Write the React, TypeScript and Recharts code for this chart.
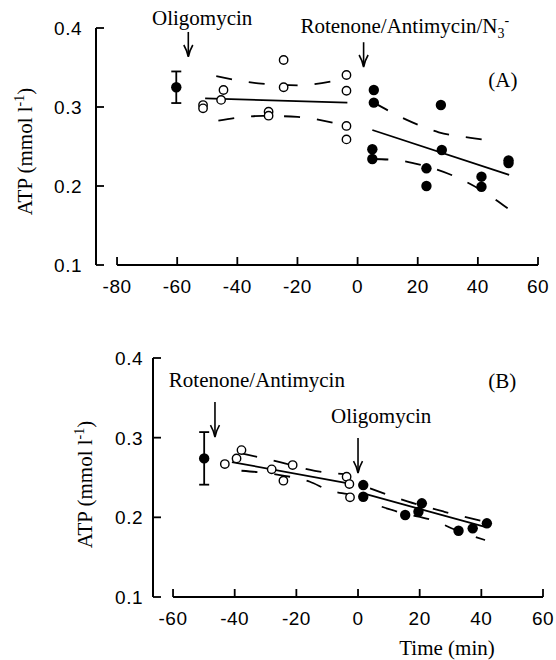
import { ComposedChart, Scatter, Line, XAxis, YAxis, ErrorBar, ReferenceLine, ReferenceDot } from "recharts";

const SANS = "'Liberation Sans', Arial, sans-serif";
const SERIF = "'Liberation Serif', 'Times New Roman', serif";

const ATP_TICKS = [0.1, 0.2, 0.3, 0.4];

// ---- panel A: oligomycin first, then rotenone/antimycin/azide
const A_TIME_TICKS = [-80, -60, -40, -20, 0, 20, 40, 60];
const A_MEAN = [{ t: -60.3, atp: 0.325, err: 0.02 }];
const A_OPEN = [
  { t: -51.4, atp: 0.3025 }, { t: -51.4, atp: 0.2983 }, { t: -45.4, atp: 0.309 }, { t: -44.6, atp: 0.3215 },
  { t: -29.6, atp: 0.294 }, { t: -29.6, atp: 0.289 }, { t: -24.6, atp: 0.3595 }, { t: -24.6, atp: 0.325 },
  { t: -3.7, atp: 0.3405 }, { t: -3.7, atp: 0.3206 }, { t: -3.7, atp: 0.276 }, { t: -3.7, atp: 0.259 },
];
const A_FILLED = [
  { t: 5.4, atp: 0.3215 }, { t: 5.4, atp: 0.3055 }, { t: 4.9, atp: 0.2465 }, { t: 4.9, atp: 0.2342 },
  { t: 27.7, atp: 0.3025 }, { t: 28, atp: 0.2456 }, { t: 22.9, atp: 0.2224 }, { t: 22.9, atp: 0.2 },
  { t: 41.2, atp: 0.2118 }, { t: 41.2, atp: 0.1991 }, { t: 50.2, atp: 0.2325 }, { t: 50.2, atp: 0.229 },
];
const A_FIT_1 = [{ t: -50.7, atp: 0.311 }, { t: -3.4, atp: 0.3055 }];
const A_UPPER_1 = [{ t: -47, atp: 0.339 }, { t: -33, atp: 0.33 }, { t: -20, atp: 0.3275 }, { t: -6.3, atp: 0.334 }];
const A_LOWER_1 = [{ t: -46.3, atp: 0.2827 }, { t: -31.5, atp: 0.2888 }, { t: -20, atp: 0.2875 }, { t: -5, atp: 0.2772 }];
const A_FIT_2 = [{ t: 4.9, atp: 0.2709 }, { t: 50.4, atp: 0.214 }];
const A_UPPER_2 = [{ t: 5.4, atp: 0.3055 }, { t: 16, atp: 0.2844 }, { t: 27, atp: 0.268 }, { t: 38.8, atp: 0.2604 }, { t: 44.9, atp: 0.2573 }];
const A_LOWER_2 = [{ t: 4.9, atp: 0.2342 }, { t: 12.7, atp: 0.2329 }, { t: 18.8, atp: 0.2287 }, { t: 30.4, atp: 0.2152 }, { t: 41, atp: 0.195 }, { t: 49.9, atp: 0.1718 }];
const A_ARROWS = [{ t: -56.3, from: 0.395, to: 0.3633 }, { t: 2, from: 0.382, to: 0.3506 }];
const A_NOTES = [
  { t: -51.7, atp: 0.4038, text: "Oligomycin" },
  { t: 15.7, atp: 0.3937, text: "Rotenone/Antimycin/N", sub: "3", sup: "-" },
  { t: 48.3, atp: 0.3253, text: "(A)" },
];

// ---- panel B: rotenone/antimycin first, then oligomycin
const B_TIME_TICKS = [-60, -40, -20, 0, 20, 40, 60];
const B_MEAN = [{ t: -49.9, atp: 0.274, err: 0.033 }];
const B_OPEN = [
  { t: -43.2, atp: 0.2669 }, { t: -39.4, atp: 0.274 }, { t: -37.8, atp: 0.2844 }, { t: -28, atp: 0.2602 },
  { t: -21.2, atp: 0.2656 }, { t: -24.2, atp: 0.246 }, { t: -3.7, atp: 0.251 }, { t: -2.8, atp: 0.2418 },
  { t: -2.6, atp: 0.2251 },
];
const B_FILLED = [
  { t: 1.7, atp: 0.2405 }, { t: 1.7, atp: 0.2259 }, { t: 15.3, atp: 0.2029 }, { t: 20.7, atp: 0.2176 },
  { t: 19.6, atp: 0.207 }, { t: 32.6, atp: 0.1832 }, { t: 37.2, atp: 0.1862 }, { t: 41.8, atp: 0.1925 },
];
const B_FIT_1 = [{ t: -40.9, atp: 0.2694 }, { t: -3.6, atp: 0.243 }];
const B_UPPER_1 = [{ t: -37.8, atp: 0.2803 }, { t: -25, atp: 0.269 }, { t: -14, atp: 0.2583 }, { t: -3.2, atp: 0.254 }];
const B_LOWER_1 = [{ t: -37.8, atp: 0.2585 }, { t: -25.3, atp: 0.2531 }, { t: -15.6, atp: 0.2447 }, { t: -9.6, atp: 0.2343 }, { t: -3.2, atp: 0.229 }];
const B_FIT_2 = [{ t: 1.7, atp: 0.23 }, { t: 41.2, atp: 0.188 }];
const B_UPPER_2 = [{ t: 3.9, atp: 0.2364 }, { t: 16, atp: 0.22 }, { t: 28, atp: 0.207 }, { t: 41.2, atp: 0.1945 }];
const B_LOWER_2 = [{ t: 7.7, atp: 0.2133 }, { t: 14.7, atp: 0.205 }, { t: 23.9, atp: 0.1966 }, { t: 33.1, atp: 0.182 }, { t: 41.2, atp: 0.1715 }];
const B_ARROWS = [{ t: -46.4, from: 0.3447, to: 0.3007 }, { t: 0, from: 0.2995, to: 0.2556 }];
const B_NOTES = [
  { t: -32.8, atp: 0.3635, text: "Rotenone/Antimycin" },
  { t: 7.5, atp: 0.3183, text: "Oligomycin" },
  { t: 46.8, atp: 0.3622, text: "(B)" },
];

function XTick({ x, y, payload }: any) {
  return (
    <g>
      <line x1={x} y1={y} x2={x} y2={y - 8} stroke="#000" strokeWidth={1.8} />
      <text x={x} y={y + 28} textAnchor="middle" fontFamily={SANS} fontSize={19} letterSpacing={0.5} fill="#000">
        {payload.value}
      </text>
    </g>
  );
}

function YTick({ x, y, payload, gap }: any) {
  return (
    <g>
      <line x1={x} y1={y} x2={x + 8} y2={y} stroke="#000" strokeWidth={1.8} />
      <text x={x - gap} y={y + 7} textAnchor="end" fontFamily={SANS} fontSize={19} letterSpacing={0.5} fill="#000">
        {Number(payload.value).toFixed(1)}
      </text>
    </g>
  );
}

function AtpTitle({ viewBox, shift, offset }: any) {
  const cx = viewBox.x + viewBox.width - offset;
  const cy = viewBox.y + viewBox.height / 2 + shift;
  return (
    <text
      x={cx}
      y={cy + 7}
      transform={`rotate(-90 ${cx} ${cy})`}
      textAnchor="middle"
      fontFamily={SERIF}
      fontSize={21}
      fill="#000"
    >
      ATP (mmol l
      <tspan dy={-8} fontSize={14}>-1</tspan>
      <tspan dy={8}>)</tspan>
    </text>
  );
}

function Arrow({ x1, y1, x2, y2 }: any) {
  return (
    <g>
      <line x1={x1} y1={y1} x2={x2} y2={y2 - 1} stroke="#000" strokeWidth={1.6} />
      <path
        d={`M ${x2 - 4.5} ${y2 - 12} Q ${x2 - 1} ${y2 - 6} ${x2} ${y2} Q ${x2 + 1} ${y2 - 6} ${x2 + 4.5} ${y2 - 12}`}
        fill="none"
        stroke="#000"
        strokeWidth={1.6}
      />
    </g>
  );
}

const openDot = (p: any) => <circle cx={p.cx} cy={p.cy} r={4.2} fill="#fff" stroke="#000" strokeWidth={1.4} />;
const filledDot = (p: any) => <circle cx={p.cx} cy={p.cy} r={5.2} fill="#000" />;

interface PanelProps {
  height: number;
  axisWidth: number;
  right: number;
  xDomain: [number, number];
  xTicks: number[];
  tickGap: number;
  titleShift: number;
  titleOffset: number;
  mean: any[];
  open: any[];
  filled: any[];
  fits: any[][];
  bands: any[][];
  arrows: { t: number; from: number; to: number }[];
  notes: { t: number; atp: number; text: string; sub?: string; sup?: string }[];
  timeTitle?: boolean;
}

function Panel(p: PanelProps) {
  return (
    <ComposedChart
      width={556}
      height={p.height}
      margin={{ top: 28, right: p.right, bottom: 0, left: 0 }}
    >
      <XAxis
        type="number"
        dataKey="t"
        domain={p.xDomain}
        ticks={p.xTicks}
        allowDataOverflow
        axisLine={false}
        tickLine={false}
        tickSize={0}
        tickMargin={0}
        interval={0}
        height={p.timeTitle ? 63 : 35}
        tick={(props: any) => <XTick {...props} />}
        label={
          p.timeTitle
            ? {
                content: ({ viewBox }: any) => (
                  <text
                    x={viewBox.x + viewBox.width - 96}
                    y={viewBox.y + 58}
                    textAnchor="middle"
                    fontFamily={SERIF}
                    fontSize={21}
                    fill="#000"
                  >
                    Time (min)
                  </text>
                ),
              }
            : undefined
        }
      />
      <YAxis
        type="number"
        domain={[0.1, 0.4]}
        ticks={ATP_TICKS}
        allowDataOverflow
        width={p.axisWidth}
        axisLine={{ stroke: "#000", strokeWidth: 2 }}
        tickLine={false}
        tickSize={0}
        tickMargin={0}
        interval={0}
        tick={(props: any) => <YTick {...props} gap={p.tickGap} />}
        label={{ content: (props: any) => <AtpTitle {...props} shift={p.titleShift} offset={p.titleOffset} /> }}
      />
      <ReferenceLine
        segment={[
          { x: p.xTicks[0], y: 0.1 },
          { x: p.xTicks[p.xTicks.length - 1], y: 0.1 },
        ]}
        stroke="#000"
        strokeWidth={2}
        ifOverflow="visible"
      />
      {p.arrows.map((a, i) => (
        <ReferenceLine
          key={`arr${i}`}
          segment={[
            { x: a.t, y: a.from },
            { x: a.t, y: a.to },
          ]}
          ifOverflow="visible"
          shape={(sp: any) => <Arrow {...sp} />}
        />
      ))}
      {p.notes.map((n, i) => (
        <ReferenceDot
          key={`note${i}`}
          x={n.t}
          y={n.atp}
          ifOverflow="visible"
          shape={(sp: any) => (
            <text x={sp.cx} y={sp.cy} textAnchor="middle" fontFamily={SERIF} fontSize={21} fill="#000">
              {n.text}
              {n.sub && (
                <tspan dy={5} fontSize={14}>
                  {n.sub}
                </tspan>
              )}
              {n.sup && (
                <tspan dy={-13} fontSize={14}>
                  {n.sup}
                </tspan>
              )}
            </text>
          )}
        />
      ))}
      {p.fits.map((d, i) => (
        <Line
          key={`fit${i}`}
          data={d}
          dataKey="atp"
          type="linear"
          stroke="#000"
          strokeWidth={1.8}
          dot={false}
          activeDot={false}
          isAnimationActive={false}
        />
      ))}
      {p.bands.map((d, i) => (
        <Line
          key={`band${i}`}
          data={d}
          dataKey="atp"
          type="monotone"
          stroke="#000"
          strokeWidth={1.8}
          strokeDasharray="16 17"
          dot={false}
          activeDot={false}
          isAnimationActive={false}
        />
      ))}
      <Scatter data={p.open} dataKey="atp" shape={openDot} isAnimationActive={false} />
      <Scatter data={p.filled} dataKey="atp" shape={filledDot} isAnimationActive={false} />
      <Scatter data={p.mean} dataKey="atp" shape={filledDot} isAnimationActive={false}>
        <ErrorBar dataKey="err" direction="y" width={5} stroke="#000" strokeWidth={1.8} isAnimationActive={false} />
      </Scatter>
    </ComposedChart>
  );
}

export default function App() {
  return (
    <div style={{ position: "absolute", left: 0, top: 0, width: 556, height: 660, background: "#fff" }}>
      <div style={{ position: "absolute", left: 0, top: 0 }}>
        <Panel
          height={300}
          axisWidth={96}
          right={18}
          xDomain={[-87, 60]}
          xTicks={A_TIME_TICKS}
          tickGap={14}
          titleShift={5}
          titleOffset={71}
          mean={A_MEAN}
          open={A_OPEN}
          filled={A_FILLED}
          fits={[A_FIT_1, A_FIT_2]}
          bands={[A_UPPER_1, A_LOWER_1, A_UPPER_2, A_LOWER_2]}
          arrows={A_ARROWS}
          notes={A_NOTES}
        />
      </div>
      <div style={{ position: "absolute", left: 0, top: 330 }}>
        <Panel
          height={330}
          axisWidth={153}
          right={13}
          xDomain={[-66.5, 60]}
          xTicks={B_TIME_TICKS}
          tickGap={10}
          titleShift={7}
          titleOffset={68}
          mean={B_MEAN}
          open={B_OPEN}
          filled={B_FILLED}
          fits={[B_FIT_1, B_FIT_2]}
          bands={[B_UPPER_1, B_LOWER_1, B_UPPER_2, B_LOWER_2]}
          arrows={B_ARROWS}
          notes={B_NOTES}
          timeTitle
        />
      </div>
    </div>
  );
}
